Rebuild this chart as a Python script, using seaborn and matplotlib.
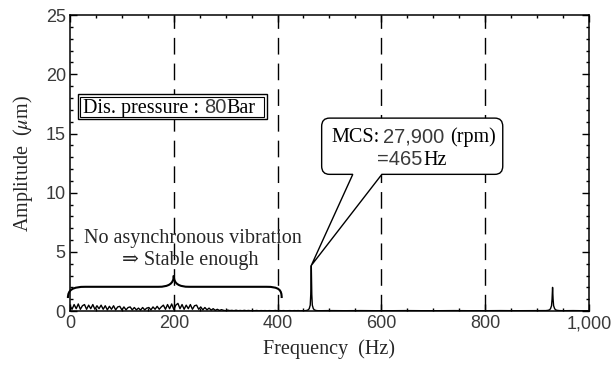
import numpy as np
import pandas as pd
import matplotlib
matplotlib.use("Agg")
import matplotlib.pyplot as plt
from matplotlib.path import Path
from matplotlib.patches import PathPatch, Rectangle
from matplotlib.ticker import MultipleLocator
from matplotlib.font_manager import FontProperties
import seaborn as sns

# ---------------- data ----------------
# low-frequency noise floor, sampled every 4 Hz from 0 Hz
low_amp = [0.45, 0.15, 0.55, 0.20, 0.60, 0.15, 0.45, 0.55, 0.15, 0.50, 0.20, 0.55, 0.15, 0.45, 0.20, 0.50,
           0.15, 0.45, 0.10, 0.40, 0.15, 0.45, 0.10, 0.35, 0.40, 0.10, 0.35, 0.10, 0.30, 0.35, 0.10, 0.30,
           0.10, 0.25, 0.08, 0.30, 0.10, 0.25, 0.30, 0.10, 0.35, 0.15,
           0.40, 0.15, 0.35, 0.50, 0.15, 0.55, 0.20, 0.60, 0.15, 0.50, 0.65, 0.20, 0.55, 0.15, 0.50, 0.20,
           0.55, 0.15, 0.45, 0.50, 0.15,
           0.35, 0.10, 0.30, 0.10, 0.25, 0.08, 0.20, 0.06, 0.15, 0.05, 0.12,
           0.06, 0.03, 0.08, 0.04, 0.06, 0.03, 0.07, 0.03, 0.05, 0.03, 0.06, 0.03, 0.05, 0.03, 0.04, 0.03,
           0.05, 0.02, 0.04, 0.03, 0.04, 0.02, 0.04, 0.03, 0.03, 0.05, 0.02, 0.04, 0.03, 0.04, 0.02, 0.03,
           0.04, 0.02, 0.04, 0.03, 0.04, 0.02, 0.03]
low_freq = np.arange(len(low_amp)) * 4

# 1x synchronous peak (MCS 465 Hz)
peak1_freq = [452, 456, 459, 461, 463, 464, 465, 466, 467, 469, 471, 474, 478]
peak1_amp = [0.03, 0.05, 0.10, 0.20, 0.50, 1.40, 3.85, 1.40, 0.50, 0.20, 0.10, 0.05, 0.03]

# flat floor between the peaks
mid_freq = [484, 500, 530, 560, 590, 620, 650, 680, 710, 740, 770, 800, 830, 860, 890, 912]
mid_amp = [0.03, 0.04, 0.03, 0.04, 0.03, 0.03, 0.04, 0.03, 0.03, 0.04, 0.03, 0.03, 0.04, 0.03, 0.04, 0.04]

# 2x peak (~930 Hz)
peak2_freq = [917, 921, 924, 926, 928, 929, 930, 931, 932, 934, 936, 939, 943]
peak2_amp = [0.04, 0.06, 0.10, 0.20, 0.45, 1.00, 2.00, 1.00, 0.45, 0.20, 0.10, 0.06, 0.04]

tail_freq = [950, 970, 985, 1000]
tail_amp = [0.03, 0.04, 0.03, 0.03]

freq = np.concatenate([low_freq, peak1_freq, mid_freq, peak2_freq, tail_freq])
amp = np.concatenate([low_amp, peak1_amp, mid_amp, peak2_amp, tail_amp])
df = pd.DataFrame({"Frequency": freq, "Amplitude": amp})

xticks = [0, 200, 400, 600, 800, 1000]
xticklabels = ["0", "200", "400", "600", "800", "1,000"]
yticks = [0, 5, 10, 15, 20, 25]
yticklabels = ["0", "5", "10", "15", "20", "25"]
guide_lines = [200, 400, 600, 800]

# ---------------- styling ----------------
sns.set_style("ticks")
plt.rcParams["font.family"] = ["Liberation Serif", "DejaVu Serif"]
plt.rcParams["mathtext.fontset"] = "stix"

serif = FontProperties(family=["Liberation Serif", "DejaVu Serif"], size=14.5)
sans = FontProperties(family=["Liberation Sans", "DejaVu Sans"], size=14.5)
tick_fp = FontProperties(family=["Liberation Sans", "DejaVu Sans"], size=13)
SANS_COLOR = "#3a3a3a"

fig = plt.figure(figsize=(6.16, 3.69), dpi=100)
ax = fig.add_axes([0.1136, 0.157, 0.956 - 0.1136, 0.959 - 0.157])

sns.lineplot(data=df, x="Frequency", y="Amplitude", ax=ax, color="black",
             lw=1.0, estimator=None, sort=False, zorder=3)

for g in guide_lines:
    ax.axvline(g, color="black", lw=1.0, dashes=(12, 6.5), zorder=1)

ax.set_xlim(0, 1000)
ax.set_ylim(0, 25)
ax.set_xticks(xticks)
ax.set_xticklabels(xticklabels)
ax.set_yticks(yticks)
ax.set_yticklabels(yticklabels)
ax.xaxis.set_minor_locator(MultipleLocator(50))
ax.yaxis.set_minor_locator(MultipleLocator(1))
ax.tick_params(which="both", direction="in", top=True, right=True, color="black")
ax.tick_params(which="major", length=5, width=1.0, pad=3)
ax.tick_params(which="minor", length=2.5, width=1.0)
for lbl in ax.get_xticklabels() + ax.get_yticklabels():
    lbl.set_fontproperties(tick_fp)
    lbl.set_color(SANS_COLOR)
for s in ax.spines.values():
    s.set_linewidth(1.1)
    s.set_color("black")

ax.set_xlabel("Frequency  (Hz)", fontsize=14.5, labelpad=5)
ax.set_ylabel(r"Amplitude  ($\mu$m)", fontsize=14.5, labelpad=8)


def rich_text(ax, x, y, pieces, zorder=6):
    """pieces: list of (string, FontProperties, gap_points_before, color)"""
    prev = None
    for s, fp, gap, col in pieces:
        if prev is None:
            prev = ax.text(x, y, s, fontproperties=fp, ha="left", va="baseline",
                           color=col, zorder=zorder)
        else:
            prev = ax.annotate(s, xy=(1, y), xycoords=(prev, ax.transData),
                               xytext=(gap, 0), textcoords="offset points",
                               fontproperties=fp, ha="left", va="baseline",
                               color=col, zorder=zorder)
    return prev


# ---- "Dis. pressure" double box ----
def px2ax(px, py):
    return ((px - 70) / 519.0, (311 - py) / 296.0)

x0, y0 = px2ax(78, 119)
x1, y1 = px2ax(267, 94)
ax.add_patch(Rectangle((x0, y0), x1 - x0, y1 - y0, transform=ax.transAxes,
                       facecolor="white", edgecolor="black", lw=1.0, zorder=5))
ix0, iy0 = px2ax(80.5, 116.5)
ix1, iy1 = px2ax(264.5, 96.5)
ax.add_patch(Rectangle((ix0, iy0), ix1 - ix0, iy1 - iy0, transform=ax.transAxes,
                       facecolor="none", edgecolor="black", lw=0.8, zorder=5))
rich_text(ax, 26, 16.72, [("Dis. pressure :", serif, 0, "black"),
                          ("80", sans, 3, SANS_COLOR),
                          ("Bar", serif, 0, "black")])

# ---- callout for MCS peak ----
bx0, bx1, by0, by1 = 485, 834, 11.55, 16.3
rx, ry = 15, 0.7
wa, wb = 545, 601
tip = (peak1_freq[int(np.argmax(peak1_amp))], max(peak1_amp))
verts = [(bx0 + rx, by1), (bx1 - rx, by1), (bx1, by1), (bx1, by1 - ry),
         (bx1, by0 + ry), (bx1, by0), (bx1 - rx, by0),
         (wb, by0), tip, (wa, by0),
         (bx0 + rx, by0), (bx0, by0), (bx0, by0 + ry),
         (bx0, by1 - ry), (bx0, by1), (bx0 + rx, by1), (bx0 + rx, by1)]
codes = [Path.MOVETO, Path.LINETO, Path.CURVE3, Path.CURVE3,
         Path.LINETO, Path.CURVE3, Path.CURVE3,
         Path.LINETO, Path.LINETO, Path.LINETO,
         Path.LINETO, Path.CURVE3, Path.CURVE3,
         Path.LINETO, Path.CURVE3, Path.CURVE3, Path.CLOSEPOLY]
ax.add_patch(PathPatch(Path(verts, codes), facecolor="white", edgecolor="black",
                       lw=1.0, zorder=5, clip_on=False))
rich_text(ax, 504, 14.27, [("MCS:", serif, 0, "black"),
                           ("27,900", sans, 2.5, SANS_COLOR),
                           ("(rpm)", serif, 4, "black")])
rich_text(ax, 592, 12.33, [("=465", sans, 0, SANS_COLOR),
                           ("Hz", serif, 0.5, "black")])

# ---- brace + comment ----
bv = [(-4, 1.1), (-4, 1.8), (5, 2.05), (30, 2.05),
      (170, 2.05),
      (190, 2.05), (200, 2.3), (200, 3.0),
      (200, 2.3), (210, 2.05), (230, 2.05),
      (378, 2.05),
      (403, 2.05), (408, 1.8), (408, 1.1)]
bc = [Path.MOVETO, Path.CURVE4, Path.CURVE4, Path.CURVE4,
      Path.LINETO,
      Path.CURVE4, Path.CURVE4, Path.CURVE4,
      Path.CURVE4, Path.CURVE4, Path.CURVE4,
      Path.LINETO,
      Path.CURVE4, Path.CURVE4, Path.CURVE4]
ax.add_patch(PathPatch(Path(bv, bc), facecolor="none", edgecolor="black", lw=1.5,
                       zorder=4, clip_on=False))
ax.text(236, 6.15, "No asynchronous vibration", fontproperties=serif, ha="center",
        va="center", zorder=6)
ax.text(232, 4.3, "\u21d2 Stable enough", fontproperties=serif, ha="center",
        va="center", zorder=6)

fig.savefig("out.png", dpi=100)
